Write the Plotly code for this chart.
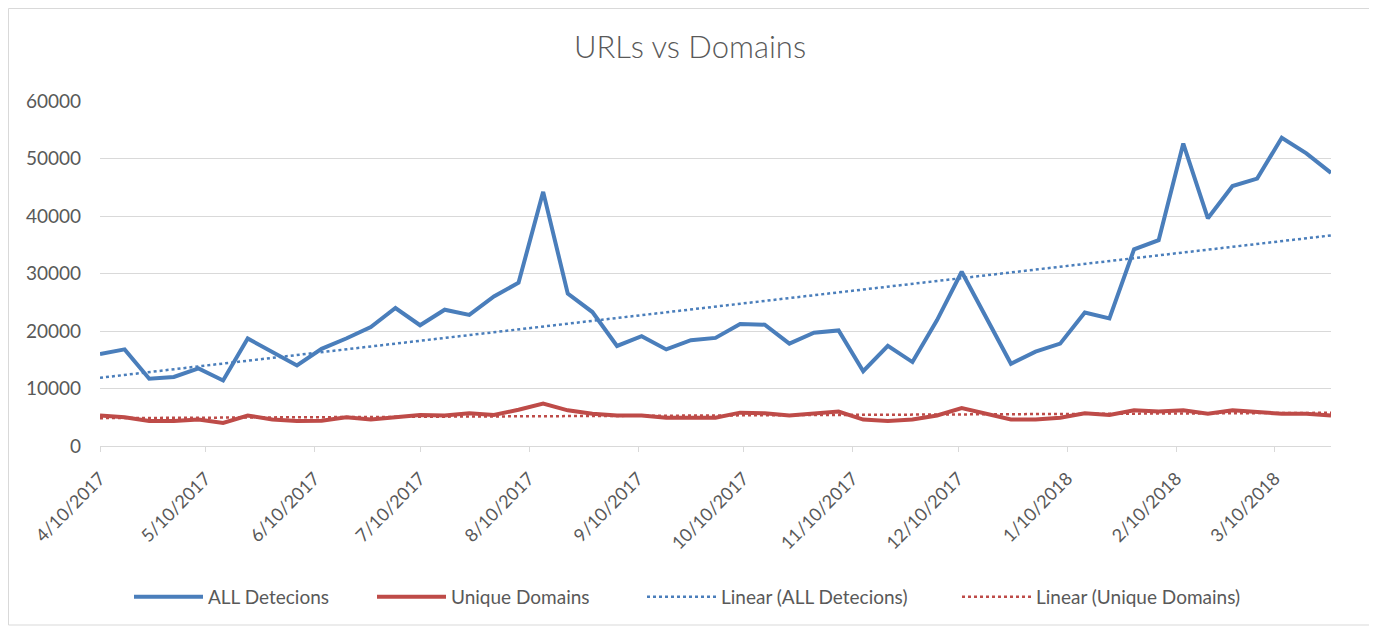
import numpy as np
import pandas as pd
import plotly.graph_objects as go

start_date = "2017-04-10"
n_weeks = 51
dates = pd.date_range(start_date, periods=n_weeks, freq="7D")

all_detections = [
    16000, 16800, 11700, 12000, 13500, 11400, 18700, 16400, 14000, 16900,
    18700, 20700, 24000, 21000, 23700, 22800, 26000, 28400, 44200, 26500,
    23300, 17400, 19100, 16800, 18400, 18800, 21200, 21100, 17800, 19700,
    20100, 13000, 17400, 14600, 21900, 30300, 22300, 14300, 16400, 17800,
    23200, 22200, 34200, 35800, 52600, 39600, 45200, 46500, 53600, 50900,
    47500,
]

unique_domains = [
    5300, 5000, 4350, 4350, 4600, 4000, 5300, 4600, 4350, 4400,
    5000, 4600, 5000, 5400, 5300, 5700, 5400, 6300, 7400, 6200,
    5600, 5300, 5300, 4900, 4900, 4900, 5800, 5700, 5300, 5700,
    6000, 4600, 4350, 4600, 5300, 6600, 5600, 4600, 4600, 4900,
    5700, 5400, 6200, 6000, 6200, 5600, 6200, 5900, 5600, 5600,
    5300,
]

tick_dates = ["2017-04-10", "2017-05-10", "2017-06-10", "2017-07-10", "2017-08-10",
              "2017-09-10", "2017-10-10", "2017-11-10", "2017-12-10", "2018-01-10",
              "2018-02-10", "2018-03-10"]
tick_labels = ["4/10/2017", "5/10/2017", "6/10/2017", "7/10/2017", "8/10/2017",
               "9/10/2017", "10/10/2017", "11/10/2017", "12/10/2017", "1/10/2018",
               "2/10/2018", "3/10/2018"]

y_ticks = [0, 10000, 20000, 30000, 40000, 50000, 60000]

series_names = ["ALL Detecions", "Unique Domains"]
blue = "#4A7EBB"
red = "#BE4B48"

idx = np.arange(n_weeks)
fit_all = np.polyval(np.polyfit(idx, all_detections, 1), idx)
fit_uni = np.polyval(np.polyfit(idx, unique_domains, 1), idx)

# figure geometry (page body has an 8px margin)
W, H = 1369, 623
L, T = 92, 93
PW, PH = 1231, 345
R = W - L - PW
B = H - T - PH

def px_x(fx):
    return (fx - L) / PW

legend_starts = [131, 374, 644, 959]
legend_y = (T + PH - 589) / PH

fig = go.Figure()
fig.add_trace(go.Scatter(x=dates, y=all_detections, mode="lines", name=series_names[0],
                         line=dict(color=blue, width=4), legend="legend"))
fig.add_trace(go.Scatter(x=dates, y=unique_domains, mode="lines", name=series_names[1],
                         line=dict(color=red, width=4), legend="legend2"))
fig.add_trace(go.Scatter(x=dates, y=fit_all, mode="lines", name="Linear (" + series_names[0] + ")",
                         line=dict(color=blue, width=2.5, dash="dot"), legend="legend3"))
fig.add_trace(go.Scatter(x=dates, y=fit_uni, mode="lines", name="Linear (" + series_names[1] + ")",
                         line=dict(color=red, width=2.5, dash="dot"), legend="legend4"))

font_family = "Lato, 'Open Sans', sans-serif"

def legend_box(start):
    return dict(orientation="h", x=px_x(start - 10), xanchor="left", y=legend_y, yanchor="middle",
                font=dict(size=19, color="#595959"), itemwidth=69, bgcolor="rgba(0,0,0,0)")

fig.update_layout(
    width=W, height=H,
    margin=dict(l=L, r=R, t=T, b=B),
    paper_bgcolor="white", plot_bgcolor="white",
    font=dict(family=font_family, color="#595959", size=18),
    title=dict(text="URLs vs Domains", x=682 / W, xanchor="center", y=1 - 39 / H, yanchor="middle",
               font=dict(size=31, color="#595959", family=font_family, weight=300)),
    showlegend=True,
    legend=legend_box(legend_starts[0]),
    legend2=legend_box(legend_starts[1]),
    legend3=legend_box(legend_starts[2]),
    legend4=legend_box(legend_starts[3]),
    xaxis=dict(type="date", range=[dates[0], dates[-1]], tickmode="array",
               tickvals=tick_dates, ticktext=tick_labels, tickangle=-45,
               showgrid=False, showline=True, linecolor="#d9d9d9", linewidth=1,
               ticks="outside", ticklen=5, tickcolor="#d9d9d9", ticklabelstandoff=9,
               tickfont=dict(size=18, color="#595959"), zeroline=False),
    yaxis=dict(range=[0, 60000], tickvals=y_ticks, ticktext=[str(v) for v in y_ticks],
               showgrid=True, gridcolor="#d9d9d9", gridwidth=1, zeroline=False,
               showline=False, ticks="", ticklabelstandoff=18,
               tickfont=dict(size=19, color="#595959")),
    shapes=[dict(type="rect", xref="paper", yref="paper",
                 x0=px_x(0.5), x1=px_x(1362),
                 y0=(T + PH - 617) / PH, y1=(T + PH - 0.5) / PH,
                 line=dict(color="#d9d9d9", width=1), fillcolor="rgba(0,0,0,0)", layer="below")],
)

fig.write_html("out.html")
